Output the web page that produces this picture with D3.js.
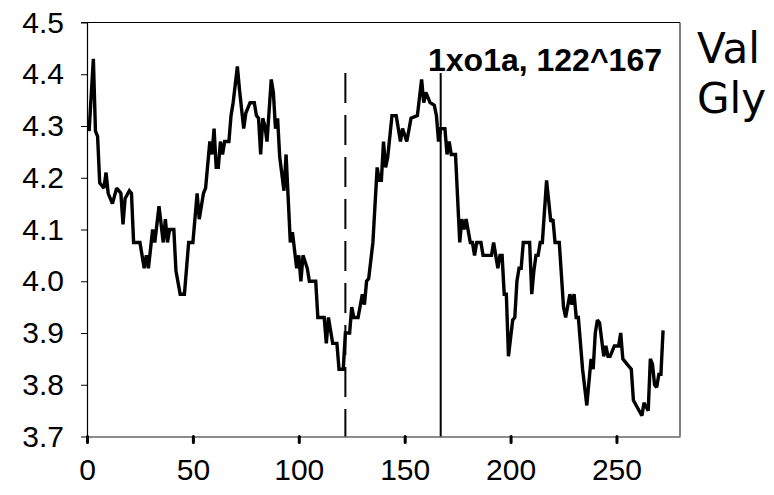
<!DOCTYPE html>
<html>
<head>
<meta charset="utf-8">
<script src="https://cdn.jsdelivr.net/npm/d3@7"></script>
<style>
  html, body { margin: 0; padding: 0; background: #fff; }
  svg { display: block; }
</style>
</head>
<body>
<svg id="chart" width="774" height="495"></svg>
<script>
// ---- data (vertices) ----
const positions = [1,3,4,5,6,8,9,10,12,14,16,17,18,20,21,22,25,27,28,29,31,32,34,36,37,38,39,41,42,44,46,48,50,52,53,55,56,58,59,60,61,62,63,64,65,67,68,69,71,72,74,75,77,79,80,81,82,83,84,85,87,88,89,90,91,93,94,96,97,99,100,101,102,104,105,108,109,112,113,114,116,118,119,121,122,124,125,126,128,130,131,132,133,135,137,138,139,140,141,142,144,146,148,149,151,153,156,158,159,160,162,164,165,166,167,169,170,171,172,174,176,177,178,179,181,182,183,184,186,187,191,192,193,194,195,196,197,198,199,201,202,203,204,205,206,209,210,211,212,213,214,215,217,219,220,221,223,225,226,228,229,230,231,232,234,236,238,239,240,241,242,244,245,246,247,249,251,252,253,255,257,258,260,262,263,265,266,267,268,269,270,271,272];
const values = [4.29,4.43,4.29,4.28,4.19,4.18,4.21,4.17,4.15,4.18,4.17,4.11,4.16,4.175,4.17,4.075,4.075,4.025,4.05,4.025,4.10,4.075,4.145,4.075,4.12,4.075,4.10,4.10,4.02,3.975,3.975,4.075,4.075,4.17,4.12,4.17,4.18,4.27,4.245,4.295,4.22,4.22,4.27,4.245,4.27,4.27,4.32,4.345,4.415,4.37,4.295,4.325,4.345,4.345,4.32,4.315,4.245,4.315,4.30,4.27,4.39,4.365,4.295,4.315,4.24,4.175,4.245,4.075,4.095,4.025,4.05,4.0,4.05,4.025,4.0,4.0,3.93,3.93,3.88,3.93,3.88,3.88,3.83,3.83,3.90,3.90,3.95,3.93,3.93,3.975,3.955,4.0,4.005,4.075,4.22,4.195,4.195,4.27,4.22,4.24,4.32,4.32,4.27,4.295,4.27,4.315,4.32,4.39,4.345,4.365,4.345,4.34,4.32,4.27,4.295,4.295,4.245,4.27,4.245,4.245,4.075,4.12,4.10,4.12,4.075,4.075,4.05,4.075,4.075,4.05,4.05,4.075,4.05,4.025,4.05,4.05,3.975,3.975,3.855,3.925,3.93,4.0,4.025,4.025,4.075,4.075,3.975,4.02,4.05,4.05,4.075,4.075,4.195,4.115,4.12,4.075,4.075,3.95,3.93,3.975,3.955,3.975,3.93,3.93,3.83,3.76,3.85,3.83,3.90,3.925,3.92,3.855,3.875,3.855,3.855,3.875,3.875,3.90,3.85,3.84,3.83,3.77,3.755,3.74,3.765,3.75,3.85,3.84,3.80,3.795,3.82,3.82,3.905];
const xTicks = [0, 50, 100, 150, 200, 250];
const yTicks = [3.7, 3.8, 3.9, 4.0, 4.1, 4.2, 4.3, 4.4, 4.5];
const markers = [122, 167];          // dashed, solid
const title = "1xo1a, 122^167";
const sideLabels = ["Val", "Gly"];

// ---- layout ----
const svg = d3.select("#chart");
const mLeft = 87, mRight = 680, mTop = 22.5, mBottom = 436.5;
const x = d3.scaleLinear().domain([0, 280]).range([mLeft, mRight]);
const y = d3.scaleLinear().domain([3.7, 4.5]).range([mBottom, mTop]);

// frame: top and right borders
svg.append("line").attr("x1", mLeft - 6).attr("x2", mRight).attr("y1", mTop).attr("y2", mTop)
  .attr("stroke", "#000").attr("stroke-width", 1);
svg.append("line").attr("x1", mRight).attr("x2", mRight).attr("y1", mTop).attr("y2", mBottom)
  .attr("stroke", "#000").attr("stroke-width", 1);

// y axis
const yAxis = svg.append("g").attr("transform", `translate(${mLeft},0)`)
  .call(d3.axisLeft(y).tickValues(yTicks).tickFormat(d3.format(".1f")).tickSizeInner(6).tickSizeOuter(0).tickPadding(17));
yAxis.select(".domain").attr("stroke", "#000").attr("stroke-width", 1.2);
yAxis.selectAll(".tick line").attr("stroke", "#000").attr("stroke-width", 1);
yAxis.selectAll(".tick text").attr("font-family", "Liberation Sans, Arial, sans-serif")
  .attr("font-size", 30).attr("fill", "#000");

// x axis
const xAxis = svg.append("g").attr("transform", `translate(0,${mBottom})`)
  .call(d3.axisBottom(x).tickValues(xTicks).tickFormat(d3.format("d")).tickSizeInner(6).tickSizeOuter(0).tickPadding(16));
xAxis.select(".domain").attr("stroke", "#666").attr("stroke-width", 1.6);
xAxis.selectAll(".tick line").attr("stroke", "#000").attr("stroke-width", 3).attr("stroke-linecap", "round");
xAxis.selectAll(".tick text").attr("font-family", "Liberation Sans, Arial, sans-serif")
  .attr("font-size", 30).attr("fill", "#000");

// marker lines
svg.append("line").attr("x1", x(markers[0])).attr("x2", x(markers[0]))
  .attr("y1", 73).attr("y2", mBottom)
  .attr("stroke", "#000").attr("stroke-width", 2).attr("stroke-dasharray", "30,12");
svg.append("line").attr("x1", x(markers[1])).attr("x2", x(markers[1]))
  .attr("y1", 73).attr("y2", mBottom)
  .attr("stroke", "#000").attr("stroke-width", 2);

// data line
const pts = positions.map((p, i) => [p, values[i]]);
svg.append("path").datum(pts)
  .attr("fill", "none").attr("stroke", "#000").attr("stroke-width", 3.4)
  .attr("stroke-linejoin", "miter").attr("stroke-miterlimit", 2)
  .attr("d", d3.line().x(d => x(d[0])).y(d => y(d[1])));

// title label
svg.append("text").attr("x", 428).attr("y", 71)
  .attr("font-family", "Liberation Sans, Arial, sans-serif").attr("font-weight", "bold")
  .attr("font-size", 32).attr("fill", "#000").text(title);

// side labels
svg.selectAll("text.side").data(sideLabels).enter().append("text")
  .attr("class", "side")
  .attr("x", 697).attr("y", (d, i) => 63 + i * 50)
  .attr("font-family", "Comic Sans MS, DejaVu Sans, sans-serif")
  .attr("font-size", 42).attr("fill", "#000").text(d => d);
</script>
</body>
</html>
